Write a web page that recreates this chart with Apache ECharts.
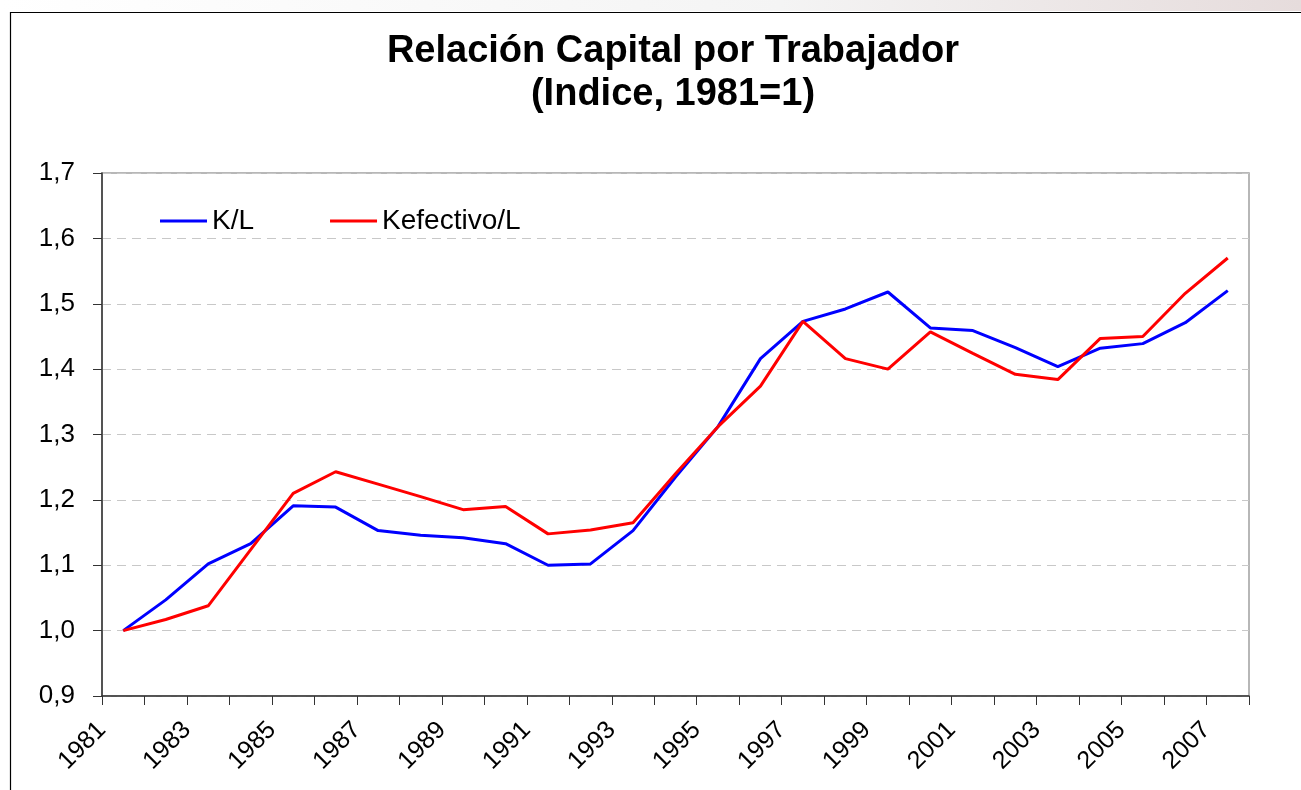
<!DOCTYPE html>
<html>
<head>
<meta charset="utf-8">
<script src="https://cdn.jsdelivr.net/npm/echarts@6/dist/echarts.min.js"></script>
<style>
html,body{margin:0;padding:0;background:#fff;}
#chart{width:1301px;height:790px;}
</style>
</head>
<body>
<div id="chart"></div>
<script>
// years of the data points
var years = ['1981','1982','1983','1984','1985','1986','1987','1988','1989','1990','1991','1992','1993','1994',
  '1995','1996','1997','1998','1999','2000','2001','2002','2003','2004','2005','2006','2007'];
// tick labels sit on the tick marks, one more than the categories
var tickLabels = years.concat(['2008']);

var kl = [1.000, 1.047, 1.102, 1.133, 1.191, 1.189, 1.153, 1.146, 1.142, 1.133, 1.100, 1.102, 1.153, 1.235,
  1.312, 1.416, 1.473, 1.492, 1.518, 1.463, 1.459, 1.433, 1.404, 1.432, 1.439, 1.471, 1.520];
var kefl = [1.000, 1.017, 1.038, 1.124, 1.210, 1.243, 1.224, 1.205, 1.185, 1.190, 1.148, 1.154, 1.165, 1.240,
  1.312, 1.374, 1.473, 1.416, 1.400, 1.457, 1.424, 1.392, 1.384, 1.447, 1.450, 1.516, 1.570];

var font = 'Liberation Sans, Arial, sans-serif';

var chart = echarts.init(document.getElementById('chart'));
var option = {
  animation: false,
  backgroundColor: '#fff',
  graphic: [
    {type: 'rect', shape: {x: 0, y: 0, width: 1301, height: 11}, z: -10,
      style: {fill: new echarts.graphic.LinearGradient(0, 0, 1, 0, [
        {offset: 0, color: '#ffffff'}, {offset: 0.6, color: '#f4f4f4'}, {offset: 1, color: '#e6dcdc'}])}},
    {type: 'rect', shape: {x: 10.5, y: 12.5, width: 1400, height: 900}, z: -5,
      style: {fill: '#fff', stroke: '#000', lineWidth: 1.2}}
  ],
  title: {
    text: 'Relación Capital por Trabajador\n(Indice, 1981=1)',
    left: 668, top: 25, textAlign: 'center',
    textStyle: {fontFamily: font, fontSize: 38, fontWeight: 'bold', color: '#000', lineHeight: 43}
  },
  legend: {
    left: 155, top: 202,
    icon: 'rect', itemWidth: 47, itemHeight: 3, itemGap: 76,
    textStyle: {fontFamily: font, fontSize: 28, color: '#000'},
    data: ['K/L', 'Kefectivo/L']
  },
  grid: {left: 102, right: 52, top: 173, bottom: 94, show: true, borderColor: '#a0a0a0', borderWidth: 1.5, containLabel: false},
  xAxis: [
    {type: 'category', data: years, boundaryGap: true, position: 'bottom',
      axisLine: {lineStyle: {color: '#333', width: 1.5}},
      axisTick: {show: true, length: 9, lineStyle: {color: '#333'}},
      axisLabel: {show: false}, splitLine: {show: false}},
    {type: 'category', data: tickLabels, boundaryGap: false, position: 'bottom',
      axisLine: {show: false}, axisTick: {show: false}, splitLine: {show: false},
      axisLabel: {rotate: 45, interval: 1, margin: 30, fontFamily: font, fontSize: 25, color: '#000'}}
  ],
  yAxis: {
    type: 'value', min: 0.9, max: 1.7, interval: 0.1,
    axisLine: {show: true, lineStyle: {color: '#333', width: 1.5}},
    axisTick: {show: true, inside: false, length: 9, lineStyle: {color: '#333'}},
    axisLabel: {margin: 27, fontFamily: font, fontSize: 26, color: '#000',
      formatter: function (v) { return v.toFixed(1).replace('.', ','); }},
    splitLine: {show: true, lineStyle: {color: '#c8c8c8', type: [9, 6], width: 1}}
  },
  series: [
    {name: 'K/L', type: 'line', data: kl, xAxisIndex: 0, symbol: 'none',
      lineStyle: {color: '#0000ff', width: 3}, itemStyle: {color: '#0000ff'}, z: 3},
    {name: 'Kefectivo/L', type: 'line', data: kefl, xAxisIndex: 0, symbol: 'none',
      lineStyle: {color: '#ff0000', width: 3}, itemStyle: {color: '#ff0000'}, z: 4}
  ]
};
chart.setOption(option);
</script>
</body>
</html>
